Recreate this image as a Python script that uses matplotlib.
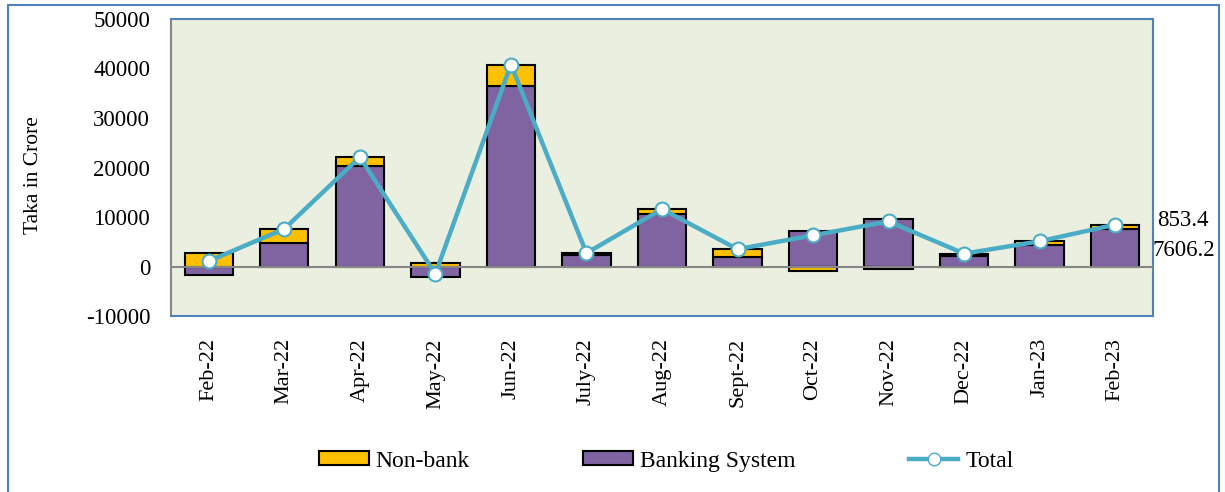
import numpy as np
import matplotlib.pyplot as plt
from matplotlib.patches import Rectangle
from matplotlib.lines import Line2D
from matplotlib.patches import Patch

plt.rcParams['font.family'] = ['Liberation Serif', 'DejaVu Serif']
plt.rcParams['axes.unicode_minus'] = False

months = ['Feb-22', 'Mar-22', 'Apr-22', 'May-22', 'Jun-22', 'July-22', 'Aug-22',
          'Sept-22', 'Oct-22', 'Nov-22', 'Dec-22', 'Jan-23', 'Feb-23']
banking = [-1700, 4700, 20400, -2200, 36400, 2300, 10600, 1900, 7200, 9600, 2200, 4300, 7606.2]
nonbank = [2800, 2900, 1700, 700, 4400, 400, 1000, 1600, -900, -500, 400, 800, 853.4]
total = [b + n for b, n in zip(banking, nonbank)]

c_bank = '#8064A2'
c_non = '#FFC000'
c_line = '#4BACC6'

fig = plt.figure(figsize=(12.25, 4.92), dpi=100)
ax = fig.add_axes([0.1396, 0.3577, 0.8016, 0.6037])
ax.set_facecolor('#EBEFDF')

x = np.arange(len(months))
bank = np.array(banking)
non = np.array(nonbank)
# stack positive and negative parts separately
non_base = np.where((non >= 0) == (bank >= 0), bank, 0)
ax.bar(x, bank, width=0.64, color=c_bank, edgecolor='black', linewidth=1.5, zorder=2)
ax.bar(x, non, bottom=non_base, width=0.64, color=c_non, edgecolor='black', linewidth=1.5, zorder=2)
ax.axhline(0, color='#868686', linewidth=1.5, zorder=3)
ax.plot(x, total, color=c_line, linewidth=3.2, marker='o', markersize=10,
        markerfacecolor='white', markeredgecolor=c_line, markeredgewidth=1.5, zorder=4)

ax.set_xlim(-0.5, len(months) - 0.5)
ax.set_ylim(-10000, 50000)
ax.set_yticks(range(-10000, 50001, 10000))
ax.set_xticks(x)
ax.set_xticklabels(months, rotation=90, fontsize=16)
ax.tick_params(axis='y', length=0, pad=15, labelsize=16.5)
ax.tick_params(axis='x', length=0, pad=16)
ax.set_ylabel('Taka in Crore', fontsize=15.5)
ax.yaxis.set_label_coords(-0.130, 0.473)

for s in ['top', 'right', 'bottom']:
    ax.spines[s].set_color('#4F81BD')
    ax.spines[s].set_linewidth(1.5)
ax.spines['left'].set_color('#868686')
ax.spines['left'].set_linewidth(1.5)

ax.text(12.55, 9300, f'{nonbank[-1]}', fontsize=16.5, va='center', ha='left', clip_on=False)
ax.text(12.5, 3200, f'{banking[-1]}', fontsize=16.5, va='center', ha='left', clip_on=False)

handles = [Patch(facecolor=c_non, edgecolor='black', linewidth=1.5),
           Patch(facecolor=c_bank, edgecolor='black', linewidth=1.5),
           Line2D([0], [0], color=c_line, linewidth=3.2, marker='o', markersize=9,
                  markerfacecolor='white', markeredgecolor=c_line)]
fig.legend(handles, ['Non-bank', 'Banking System', 'Total'], loc='center',
           bbox_to_anchor=(0.544, 0.063), ncol=3, frameon=False, fontsize=17,
           columnspacing=4.8, handlelength=2.1, handleheight=0.55, handletextpad=0.3)

fig.patches.append(Rectangle((8 / 1225, -0.01), 1211 / 1225, 0.999, transform=fig.transFigure,
                             fill=False, edgecolor='#4F81BD', linewidth=1.5))

fig.savefig('out.png', dpi=100)
